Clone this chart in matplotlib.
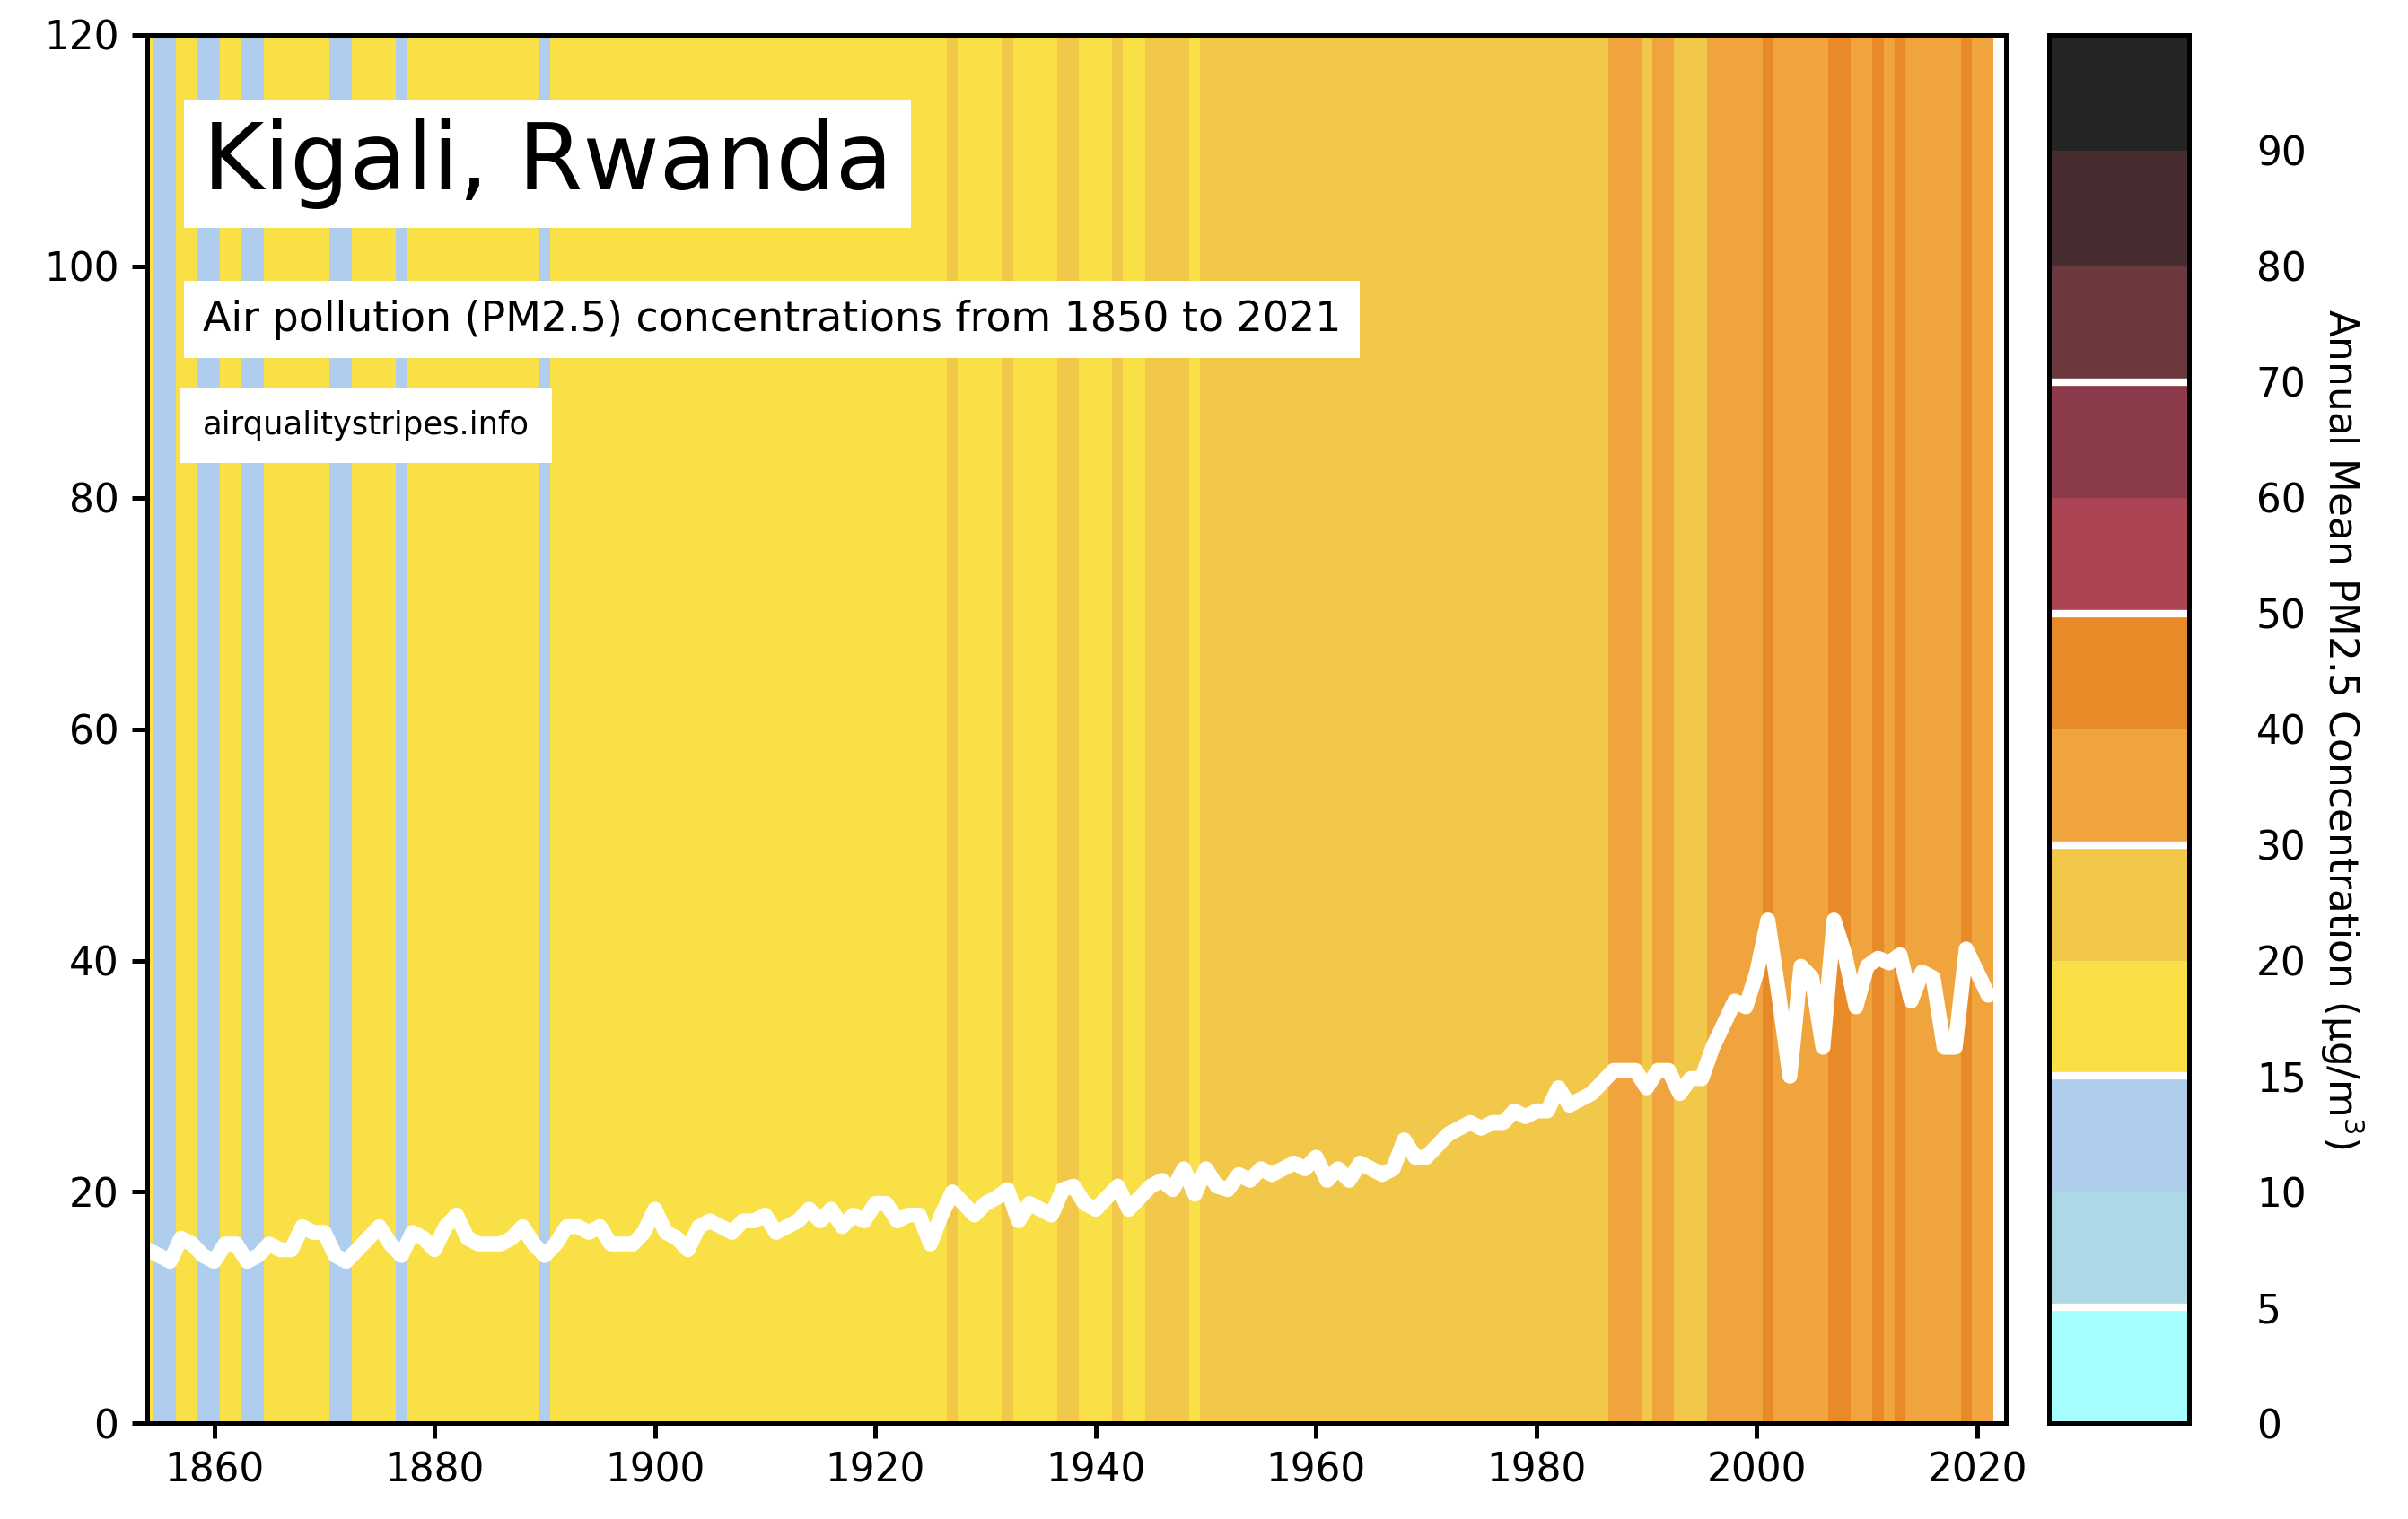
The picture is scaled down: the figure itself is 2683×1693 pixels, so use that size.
import numpy as np
import matplotlib
matplotlib.use('Agg')
import matplotlib.pyplot as plt
from matplotlib.colors import ListedColormap, BoundaryNorm

years = np.arange(1850, 2022)
pm25 = [15, 16, 14.5, 15,
        15, 14.5, 14, 16, 15.5, 14.5, 14, 15.5, 15.5, 14,
        14.5, 15.5, 15, 15, 17, 16.5, 16.5, 14.5, 14, 15,
        16, 17, 15.5, 14.5, 16.5, 16, 15, 17, 18, 16,
        15.5, 15.5, 15.5, 16, 17, 15.5, 14.5, 15.5, 17, 17,
        16.5, 17, 15.5, 15.5, 15.5, 16.5, 18.5, 16.5, 16, 15,
        17, 17.5, 17, 16.5, 17.5, 17.5, 18, 16.5, 17, 17.5,
        18.5, 17.5, 18.5, 17, 18, 17.5, 19, 19, 17.5, 18,
        18, 15.5, 18, 20, 19, 18, 19, 19.5, 20.2, 17.5,
        19, 18.5, 18, 20.2, 20.5, 19, 18.5, 19.5, 20.5, 18.5,
        19.5, 20.5, 21, 20.2, 22, 19.8, 22, 20.5, 20.2, 21.5,
        21, 22, 21.5, 22, 22.5, 22, 23, 21, 22, 21,
        22.5, 22, 21.5, 22, 24.5, 23, 23, 24, 25, 25.5,
        26, 25.5, 26, 26, 27, 26.5, 27, 27, 29, 27.5,
        28, 28.5, 29.5, 30.5, 30.5, 30.5, 29, 30.5, 30.5, 28.5,
        29.8, 29.8, 32.5, 34.5, 36.5, 36, 39, 43.5, 37, 30,
        39.5, 38.5, 32.5, 43.5, 40.5, 36, 39.5, 40.2, 39.8, 40.5,
        36.5, 39, 38.5, 32.5, 32.5, 41, 39, 37]
levels = [0, 5, 10, 15, 20, 30, 40, 50, 60, 70, 80, 90, 100]
level_colors = ['#a6fdfe', '#add8e6', '#afceee', '#f8e046', '#f2c84b', '#f0a43e',
                '#e88a28', '#ad4453', '#8a3a48', '#6b393d', '#472d30', '#242424']
white_levels = [5, 15, 30, 50, 70]

cmap = ListedColormap(level_colors)
norm = BoundaryNorm(levels, cmap.N)

fig = plt.figure(figsize=(2683 / 300, 1693 / 300), dpi=300)
ax = fig.add_axes([0.061, 0.063, 0.772, 0.914])
cax = fig.add_axes([0.851, 0.063, 0.058, 0.914])

for y, v in zip(years, pm25):
    ax.axvspan(y - 0.5, y + 0.5, color=cmap(norm(v)), lw=0)
ax.plot(years, pm25, color='white', lw=4, solid_joinstyle='round', solid_capstyle='round')
ax.set_xlim(1853.9, 2022.6)
ax.set_ylim(0, 120)
ax.set_xticks(range(1860, 2021, 20))
ax.set_yticks(range(0, 121, 20))
ax.tick_params(labelsize=10.5, width=1.2, length=4)
for s in ax.spines.values():
    s.set_linewidth(1.2)

box = dict(facecolor='white', edgecolor='none', pad=5)
ax.text(0.03, 0.94, 'Kigali, Rwanda', transform=ax.transAxes, fontsize=25,
        va='top', ha='left', bbox=box)
ax.text(0.03, 0.795, 'Air pollution (PM2.5) concentrations from 1850 to 2021',
        transform=ax.transAxes, fontsize=11, va='center', ha='left', bbox=box)
ax.text(0.03, 0.75 - 0.02 - 0.0, 'airqualitystripes.info', transform=ax.transAxes,
        fontsize=8.5, va='top', ha='left', bbox=dict(facecolor='white', edgecolor='none', pad=6))

# colorbar drawn as evenly spaced level blocks
idx = np.arange(len(level_colors))
cax.bar(np.zeros_like(idx), np.ones_like(idx), bottom=idx, width=1, color=level_colors, align='center')
for lv in white_levels:
    cax.axhline(levels.index(lv), color='white', lw=2)
cax.set_xlim(-0.5, 0.5)
cax.set_ylim(0, len(level_colors))
cax.set_xticks([])
cax.set_yticks(idx)
cax.set_yticklabels([str(l) for l in levels[:-1]])
cax.yaxis.tick_right()
cax.yaxis.set_label_position('right')
cax.tick_params(axis='y', length=0, labelsize=10.5, pad=18)
cax.set_ylabel('Annual Mean PM2.5 Concentration (µg/m$^3$)', rotation=270,
               fontsize=10.5, labelpad=16)
for s in cax.spines.values():
    s.set_linewidth(1.2)

fig.savefig('out.png', dpi=300)
